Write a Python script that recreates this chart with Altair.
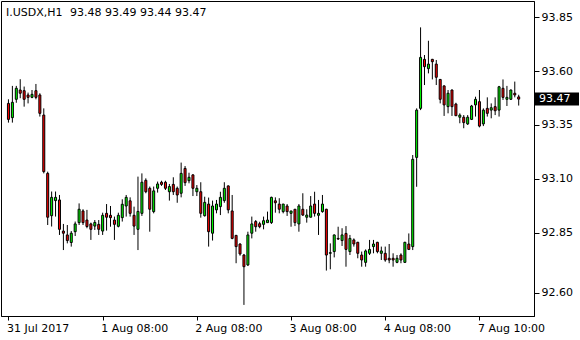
import altair as alt
import pandas as pd

# ---- data (hourly bars, index 0..130) ----
opens = [93.450, 93.384, 93.469, 93.512, 93.509, 93.489, 93.478, 93.509, 93.489, 93.396,
         93.126, 92.930, 93.000, 93.003, 92.859, 92.841, 92.806, 92.856, 92.898, 92.952,
         92.910, 92.892, 92.882, 92.890, 92.859, 92.941, 92.932, 92.910, 92.881, 92.921,
         92.975, 92.999, 92.932, 92.867, 92.941, 93.094, 93.057, 92.949, 93.057, 93.085,
         93.085, 93.041, 93.075, 93.057, 93.034, 93.149, 93.092, 93.119, 93.041, 93.041,
         92.930, 92.984, 92.849, 92.957, 92.972, 93.000, 93.068, 92.952, 92.839, 92.799,
         92.748, 92.702, 92.849, 92.903, 92.893, 92.890, 92.898, 92.898, 92.999, 92.984,
         92.949, 92.975, 92.941, 92.960, 92.892, 92.960, 92.923, 92.923, 92.984, 92.932,
         92.949, 92.960, 92.756, 92.764, 92.825, 92.815, 92.848, 92.764, 92.818, 92.807,
         92.748, 92.714, 92.756, 92.787, 92.807, 92.756, 92.756, 92.733, 92.733, 92.714,
         92.748, 92.714, 92.799, 92.787, 93.200, 93.427, 93.654, 93.611, 93.654, 93.632,
         93.561, 93.531, 93.435, 93.512, 93.447, 93.386, 93.386, 93.355, 93.376, 93.443,
         93.458, 93.355, 93.427, 93.419, 93.435, 93.419, 93.520, 93.469, 93.469, 93.497,
         93.480]
highs = [93.469, 93.531, 93.531, 93.562, 93.528, 93.500, 93.512, 93.540, 93.497, 93.427,
         93.134, 93.042, 93.042, 93.026, 92.892, 92.887, 92.859, 92.903, 92.987, 92.960,
         92.957, 92.898, 92.910, 92.910, 92.944, 92.984, 92.975, 92.926, 92.944, 93.006,
         93.026, 93.015, 92.972, 93.111, 93.126, 93.103, 93.065, 93.065, 93.088, 93.092,
         93.092, 93.077, 93.108, 93.065, 93.176, 93.160, 93.129, 93.122, 93.072, 93.085,
         93.018, 93.014, 93.000, 93.003, 93.041, 93.085, 93.070, 93.026, 92.841, 92.802,
         92.753, 92.856, 92.926, 92.910, 92.902, 92.926, 92.949, 93.018, 93.015, 93.011,
         92.984, 92.984, 92.952, 92.960, 92.984, 93.034, 92.960, 93.021, 93.041, 93.003,
         93.026, 92.962, 92.802, 92.843, 92.879, 92.872, 92.882, 92.841, 92.825, 92.809,
         92.764, 92.774, 92.818, 92.818, 92.809, 92.787, 92.787, 92.799, 92.756, 92.748,
         92.756, 92.809, 92.848, 93.211, 93.427, 93.802, 93.674, 93.740, 93.656, 93.651,
         93.563, 93.533, 93.512, 93.514, 93.453, 93.404, 93.396, 93.396, 93.443, 93.481,
         93.512, 93.427, 93.478, 93.450, 93.478, 93.531, 93.561, 93.531, 93.514, 93.551,
         93.490]
lows = [93.361, 93.361, 93.453, 93.474, 93.435, 93.450, 93.474, 93.469, 93.389, 93.126,
        92.887, 92.880, 92.926, 92.841, 92.771, 92.802, 92.787, 92.836, 92.887, 92.887,
        92.872, 92.818, 92.864, 92.841, 92.841, 92.861, 92.879, 92.818, 92.876, 92.903,
        92.926, 92.926, 92.841, 92.771, 92.929, 93.034, 92.856, 92.941, 93.037, 93.068,
        93.049, 93.000, 93.026, 92.990, 93.015, 93.068, 93.080, 93.021, 93.021, 92.921,
        92.926, 92.787, 92.815, 92.941, 92.933, 92.990, 92.941, 92.821, 92.710, 92.745,
        92.517, 92.697, 92.825, 92.856, 92.872, 92.867, 92.898, 92.892, 92.944, 92.941,
        92.941, 92.929, 92.879, 92.882, 92.856, 92.929, 92.898, 92.923, 92.926, 92.841,
        92.944, 92.676, 92.682, 92.737, 92.818, 92.790, 92.694, 92.748, 92.787, 92.733,
        92.694, 92.694, 92.748, 92.756, 92.756, 92.725, 92.717, 92.710, 92.694, 92.710,
        92.710, 92.712, 92.771, 92.771, 93.064, 93.419, 93.535, 93.589, 93.561, 93.535,
        93.450, 93.392, 93.404, 93.392, 93.392, 93.358, 93.335, 93.350, 93.373, 93.389,
        93.339, 93.345, 93.389, 93.381, 93.396, 93.389, 93.466, 93.438, 93.466, 93.478,
        93.440]
closes = [93.376, 93.455, 93.520, 93.497, 93.469, 93.478, 93.492, 93.478, 93.404, 93.134,
          92.923, 93.015, 93.015, 92.867, 92.849, 92.815, 92.849, 92.892, 92.960, 92.898,
          92.880, 92.867, 92.899, 92.867, 92.932, 92.923, 92.921, 92.890, 92.932, 92.983,
          93.015, 92.941, 92.882, 92.950, 93.085, 93.041, 92.960, 93.045, 93.077, 93.075,
          93.057, 93.065, 93.041, 93.026, 93.126, 93.083, 93.108, 93.057, 93.057, 92.941,
          92.992, 92.856, 92.975, 92.984, 93.015, 93.057, 92.957, 92.825, 92.787, 92.753,
          92.694, 92.841, 92.892, 92.879, 92.879, 92.907, 92.910, 93.015, 92.990, 92.960,
          92.984, 92.949, 92.952, 92.898, 92.975, 92.933, 92.933, 92.975, 92.941, 92.941,
          92.984, 92.748, 92.759, 92.841, 92.822, 92.841, 92.774, 92.825, 92.799, 92.756,
          92.725, 92.767, 92.774, 92.799, 92.764, 92.767, 92.725, 92.725, 92.725, 92.733,
          92.725, 92.807, 92.774, 93.191, 93.419, 93.663, 93.620, 93.632, 93.643, 93.571,
          93.469, 93.443, 93.497, 93.435, 93.393, 93.396, 93.361, 93.386, 93.438, 93.469,
          93.345, 93.419, 93.404, 93.430, 93.416, 93.527, 93.478, 93.478, 93.512, 93.489,
          93.470]

x_tick_bars = [0, 24, 48, 72, 96, 120]
x_tick_labels = ["31 Jul 2017", "1 Aug 08:00", "2 Aug 08:00", "3 Aug 08:00",
                 "4 Aug 08:00", "7 Aug 10:00"]
y_tick_values = [92.5722, 92.85, 93.10, 93.35, 93.60, 93.85]
y_tick_labels = ["92.60", "92.85", "93.10", "93.35", "93.60", "93.85"]

symbol = "I.USDX,H1"
last_ohlc = "93.48 93.49 93.44 93.47"
current_price = 93.47

# ---- build table ----
df = pd.DataFrame({"bar": list(range(len(opens))), "o": opens, "h": highs,
                   "l": lows, "c": closes})
df["lo"] = df[["o", "c"]].min(axis=1)
df["hi"] = df[["o", "c"]].max(axis=1)
df["dir"] = ["up" if c >= o else "down" for o, c in zip(df["o"], df["c"])]

FONT = "DejaVu Sans"

x_expr = " : ".join(f"abs(datum.value - {v}) < 0.01 ? '{t}'"
                    for v, t in zip(x_tick_bars, x_tick_labels)) + " : ''"
y_expr = " : ".join(f"abs(datum.value - {v}) < 0.001 ? '{t}'"
                    for v, t in zip(y_tick_values, y_tick_labels)) + " : ''"

xscale = alt.Scale(domain=[-0.625, 132.625], nice=False, zero=False)
yscale = alt.Scale(domain=[92.4657, 93.9241], nice=False, zero=False)

x_enc = alt.X("bar:Q", scale=xscale, title=None,
              axis=alt.Axis(values=x_tick_bars, labelExpr=x_expr, tickSize=4,
                            labelAlign="left", labelBaseline="top", labelPadding=2,
                            labelOffset=-2, labelFlush=False, labelOverlap=False))
y_axis = alt.Axis(orient="right", values=y_tick_values, labelExpr=y_expr,
                  tickSize=5, labelPadding=2, labelBaseline="middle",
                  labelOverlap=False, labelFlush=False)

base = alt.Chart(df)

wicks = base.mark_rule(color="black", strokeWidth=1).encode(
    x=x_enc,
    y=alt.Y("l:Q", scale=yscale, axis=y_axis, title=None),
    y2="h:Q",
)

bodies = base.mark_bar(width=2, stroke="black", strokeWidth=1).encode(
    x=x_enc,
    y=alt.Y("lo:Q", scale=yscale, axis=y_axis, title=None),
    y2="hi:Q",
    fill=alt.Fill("dir:N", scale=alt.Scale(domain=["up", "down"],
                                           range=["#00ff00", "#ff0000"]),
                  legend=None),
)

price_df = pd.DataFrame({"price": [current_price],
                         "label": [f"{current_price:.2f}"]})
price_box = alt.Chart(price_df).mark_tick(
    orient="horizontal", size=44, thickness=13, color="black", opacity=1
).encode(
    x=alt.value(556),
    y=alt.Y("price:Q", scale=yscale, axis=y_axis, title=None),
)
price_text = alt.Chart(price_df).mark_text(
    align="left", baseline="middle", color="white", font=FONT, fontSize=11
).encode(
    x=alt.value(538),
    y=alt.Y("price:Q", scale=yscale, axis=y_axis, title=None),
    text="label:N",
)

head_df = pd.DataFrame({"sym": [symbol], "ohlc": [last_ohlc]})
head_sym = alt.Chart(head_df).mark_text(
    align="left", baseline="alphabetic", color="black", font=FONT, fontSize=11
).encode(x=alt.value(5), y=alt.value(15), text="sym:N")
head_vals = alt.Chart(head_df).mark_text(
    align="left", baseline="alphabetic", color="black", font=FONT, fontSize=11
).encode(x=alt.value(69), y=alt.value(15), text="ohlc:N")

chart = alt.layer(wicks, bodies, price_box, price_text, head_sym, head_vals).properties(
    width=533, height=315,
    padding={"left": 1, "top": 1, "right": 46, "bottom": 24},
    autosize=alt.AutoSizeParams(type="none"),
    background="white",
).configure_view(
    stroke="black", strokeWidth=1
).configure_axis(
    grid=False, domainColor="black", tickColor="black", labelColor="black",
    labelFont=FONT, labelFontSize=11, domainWidth=1, tickWidth=1,
)

chart.save("out.html", embed_options={"renderer": "svg", "actions": False})
